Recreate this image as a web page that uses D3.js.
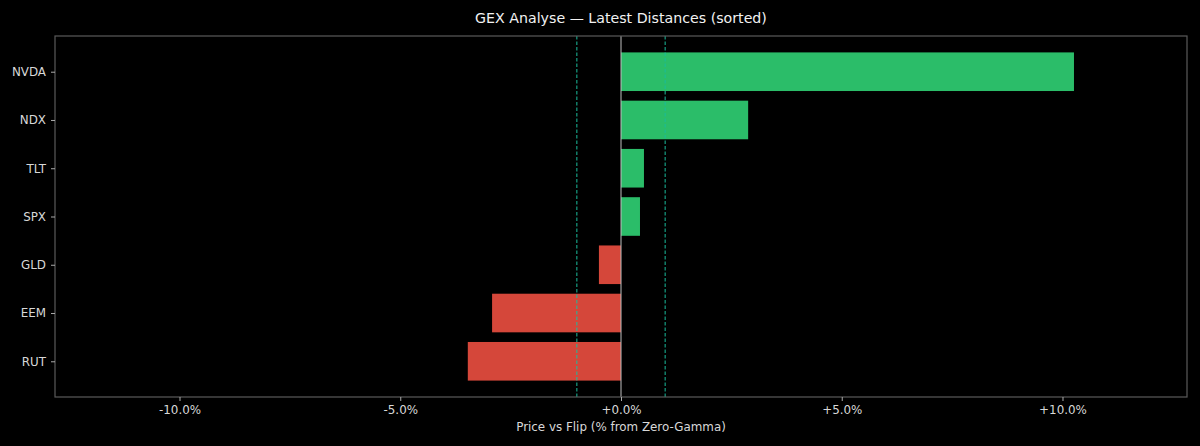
<!DOCTYPE html>
<html>
<head>
<meta charset="utf-8">
<script src="https://cdn.jsdelivr.net/npm/d3@7"></script>
<style>
  body { margin: 0; background: #000; }
  text { font-family: "DejaVu Sans", sans-serif; }
</style>
</head>
<body>
<div id="chart"></div>
<script>
// data (top to bottom)
var tickers = ["NVDA", "NDX", "TLT", "SPX", "GLD", "EEM", "RUT"];
var distances = [10.26, 2.88, 0.52, 0.43, -0.50, -2.92, -3.47];
var xTicks = [-10, -5, 0, 5, 10];
var bandLines = [-1, 1];

// chart bounds
var svgWidth = 1200;
var svgHeight = 446;
var margin = { top: 36, right: 13, bottom: 49, left: 55 };
var width = svgWidth - margin.left - margin.right;
var height = svgHeight - margin.top - margin.bottom;

var svg = d3.select("#chart")
  .append("svg")
  .attr("width", svgWidth)
  .attr("height", svgHeight)
  .style("background", "#000");

var chartGroup = svg.append("g")
  .attr("transform", `translate(${margin.left}, ${margin.top})`);

// x scale symmetric around zero
var xScale = d3.scaleLinear()
  .domain([-12.82, 12.82])
  .range([0, width]);

// y: matplotlib-like positions, first ticker on top
var yScale = d3.scaleLinear()
  .domain([-0.74, 6.74])
  .range([0, height]);
var barH = yScale(0.8) - yScale(0);

// bars
chartGroup.selectAll("rect.bar")
  .data(distances)
  .enter()
  .append("rect")
  .attr("class", "bar")
  .attr("x", d => xScale(Math.min(0, d)))
  .attr("y", (d, i) => yScale(i - 0.4))
  .attr("width", d => Math.abs(xScale(d) - xScale(0)))
  .attr("height", barH)
  .attr("fill", d => d >= 0 ? "#2bbd69" : "#d5473a");

// zero line
chartGroup.append("line")
  .attr("x1", xScale(0)).attr("x2", xScale(0))
  .attr("y1", 0).attr("y2", height)
  .attr("stroke", "#bfbfbf")
  .attr("stroke-width", 1);

// +-1% dashed lines
chartGroup.selectAll("line.band")
  .data(bandLines)
  .enter()
  .append("line")
  .attr("class", "band")
  .attr("x1", d => xScale(d)).attr("x2", d => xScale(d))
  .attr("y1", 0).attr("y2", height)
  .attr("stroke", "#1abc9c")
  .attr("stroke-width", 1)
  .attr("stroke-dasharray", "3.5,2");

// frame
chartGroup.append("rect")
  .attr("x", 0).attr("y", 0)
  .attr("width", width).attr("height", height)
  .attr("fill", "none")
  .attr("stroke", "#5a5a5a")
  .attr("stroke-width", 1.2);

// x axis
var bottomAxis = d3.axisBottom(xScale)
  .tickValues(xTicks)
  .tickSize(4)
  .tickPadding(5)
  .tickFormat(d => (d >= 0 ? "+" : "") + d.toFixed(1) + "%");

var xAxis = chartGroup.append("g")
  .attr("transform", `translate(0, ${height})`)
  .call(bottomAxis);

// y axis
var leftAxis = d3.axisLeft(yScale)
  .tickValues(d3.range(tickers.length))
  .tickSize(4)
  .tickPadding(5)
  .tickFormat(i => tickers[i]);

var yAxis = chartGroup.append("g")
  .call(leftAxis);

[xAxis, yAxis].forEach(function(ax) {
  ax.select(".domain").remove();
  ax.selectAll(".tick line").attr("stroke", "#aaaaaa");
  ax.selectAll(".tick text")
    .attr("fill", "#d8d8d8")
    .attr("font-size", "11.9px")
    .attr("font-family", "DejaVu Sans, sans-serif");
});

// x axis label
chartGroup.append("text")
  .attr("x", width / 2)
  .attr("y", height + 34)
  .attr("text-anchor", "middle")
  .attr("fill", "#d8d8d8")
  .attr("font-size", "11.9px")
  .text("Price vs Flip (% from Zero-Gamma)");

// title
svg.append("text")
  .attr("x", margin.left + width / 2)
  .attr("y", 23)
  .attr("text-anchor", "middle")
  .attr("fill", "#f2f2f2")
  .attr("font-size", "14.2px")
  .text("GEX Analyse — Latest Distances (sorted)");
</script>
</body>
</html>
